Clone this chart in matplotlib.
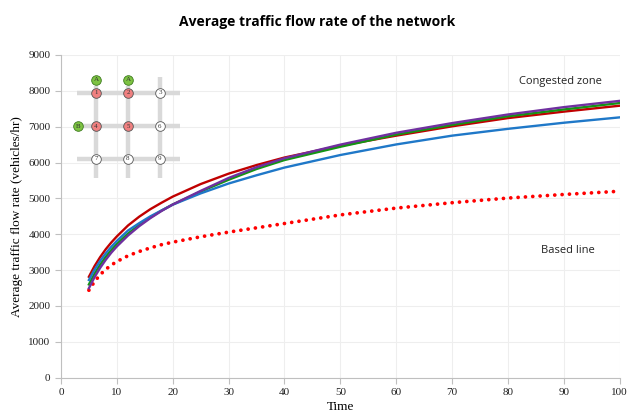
import numpy as np
import matplotlib
matplotlib.use("Agg")
import matplotlib.pyplot as plt

# Time samples
time = [5, 6, 7, 8, 9, 10, 12, 14, 16, 18, 20, 25, 30, 35, 40, 50, 60, 70, 80, 90, 100]

# Average flow rate (vehicles/hr) for each scenario
red_flow = [2815, 3110, 3360, 3580, 3770, 3940, 4245, 4490, 4700, 4880, 5050,
            5400, 5690, 5930, 6140, 6470, 6750, 7010, 7240, 7420, 7585]
blue_flow = [2725, 3010, 3255, 3465, 3650, 3815, 4105, 4310, 4500, 4665, 4825,
             5140, 5415, 5645, 5860, 6210, 6505, 6750, 6940, 7110, 7260]
green_flow = [2600, 2900, 3150, 3370, 3560, 3730, 4020, 4260, 4470, 4660, 4830,
              5190, 5520, 5820, 6070, 6440, 6780, 7050, 7290, 7480, 7660]
purple_flow = [2495, 2800, 3060, 3285, 3485, 3660, 3965, 4225, 4450, 4650, 4830,
               5210, 5570, 5870, 6120, 6500, 6830, 7100, 7340, 7545, 7720]
base_flow = [2440, 2680, 2870, 3020, 3140, 3240, 3400, 3520, 3620, 3710, 3780,
             3930, 4060, 4180, 4300, 4540, 4730, 4880, 5010, 5110, 5200]

# Network sketch: node labels, colours and grid positions (col, row)
node_labels = ["1", "2", "3", "4", "5", "6", "7", "8", "9"]
node_cols = [1, 2, 3, 1, 2, 3, 1, 2, 3]
node_rows = [1, 1, 1, 2, 2, 2, 3, 3, 3]
congested = ["1", "2", "4", "5"]
entry_labels = ["A", "A", "B"]
entry_cols = [1, 2, 0.45]
entry_rows = [0.6, 0.6, 2]

fig = plt.figure(figsize=(6.35, 4.17), dpi=100)
ax = fig.add_axes([0.096, 0.0942, 0.88, 0.774])

ax.plot(time, red_flow, color="#C00000", lw=1.7, zorder=3)
ax.plot(time, green_flow, color="#149414", lw=1.7, zorder=3)
ax.plot(time, blue_flow, color="#1F78C8", lw=1.7, zorder=3)
ax.plot(time, purple_flow, color="#7030A0", lw=1.7, zorder=4)
ax.plot(time, base_flow, color="#FF0000", lw=2.7, linestyle=(0, (0.01, 1.95)),
        dash_capstyle="round", zorder=3)

ax.set_xlim(0, 100)
ax.set_ylim(0, 9000)
ax.set_xticks(np.arange(0, 101, 10))
ax.set_yticks(np.arange(0, 9001, 1000))
ax.grid(True, color="#EEEEEE", lw=0.8)
ax.set_axisbelow(True)
for side in ["top", "right"]:
    ax.spines[side].set_visible(False)
for side in ["left", "bottom"]:
    ax.spines[side].set_color("#BFBFBF")
ax.tick_params(colors="#BFBFBF", labelcolor="#222222", length=4, labelsize=8)
for lab in ax.get_xticklabels() + ax.get_yticklabels():
    lab.set_family("Liberation Serif")

ax.set_xlabel("Time", family="Liberation Serif", fontsize=9.5, labelpad=3)
ax.set_ylabel("Average traffic flow rate (vehicles/hr)", family="Liberation Serif",
              fontsize=9.5, labelpad=4)
fig.suptitle("Average traffic flow rate of the network", fontsize=10,
             fontweight="bold", family="Open Sans", y=0.965)

ax.text(89.3, 8270, "Congested zone", ha="center", va="center", fontsize=8,
        family="Open Sans", color="#222222")
ax.text(90.7, 3560, "Based line", ha="center", va="center", fontsize=8,
        family="Open Sans", color="#222222")

# inset network diagram
ins = fig.add_axes([64 / 635, 1 - 192 / 417, 128 / 635, 132 / 417])
ins.set_xlim(0, 4)
ins.set_ylim(4, 0)
ins.axis("off")
for r in [1, 2, 3]:
    ins.plot([0.4, 3.62], [r, r], color="#D9D9D9", lw=3.2, solid_capstyle="butt", zorder=1)
for c in [1, 2]:
    ins.plot([c, c], [0.78, 3.57], color="#D9D9D9", lw=3.2, solid_capstyle="butt", zorder=1)
ins.plot([3, 3], [0.5, 3.57], color="#D9D9D9", lw=3.2, solid_capstyle="butt", zorder=1)
for lab, c, r in zip(node_labels, node_cols, node_rows):
    fc = "#F08080" if lab in congested else "white"
    ins.scatter(c, r, s=48, facecolor=fc, edgecolor="#555555", lw=0.6, zorder=3)
    ins.text(c, r, lab, ha="center", va="center", fontsize=5,
             family="Liberation Serif", color="#333333", zorder=4)
for lab, c, r in zip(entry_labels, entry_cols, entry_rows):
    ins.scatter(c, r, s=48, facecolor="#7DC242", edgecolor="#3C7A1E", lw=0.6, zorder=3)
    ins.text(c, r, lab, ha="center", va="center", fontsize=5,
             family="Liberation Serif", color="#333333", zorder=4)

fig.savefig("out.png", dpi=100)
